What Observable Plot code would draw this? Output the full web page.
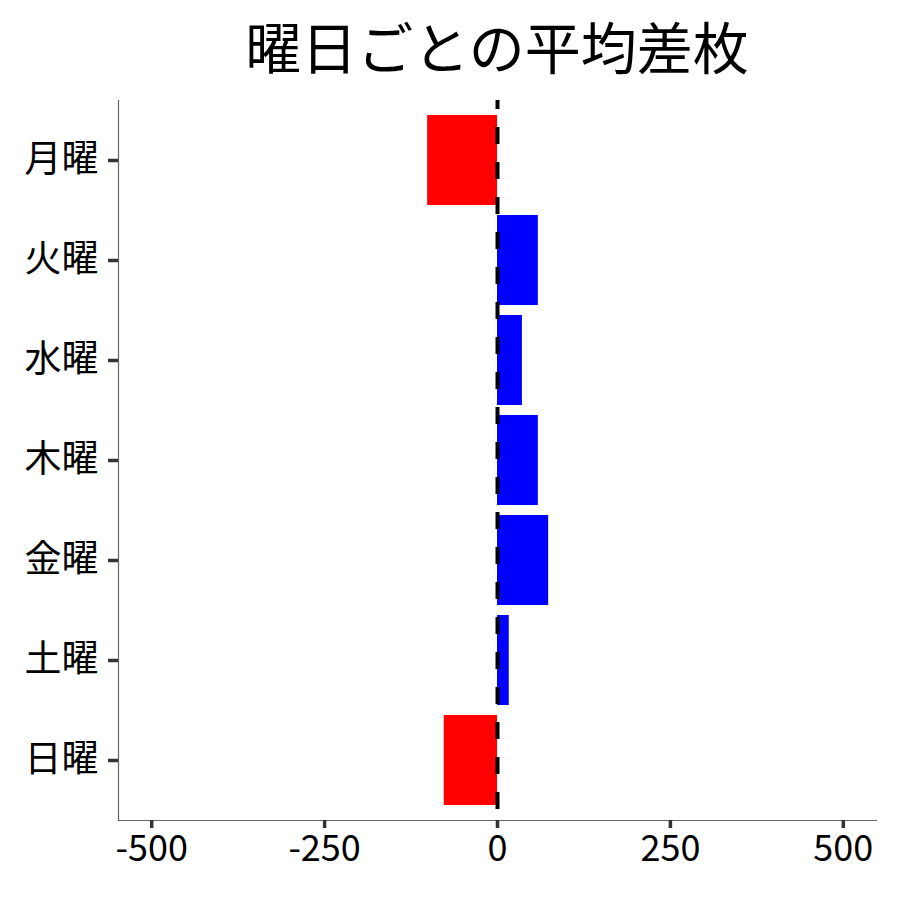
<!DOCTYPE html>
<html>
<head>
<meta charset="utf-8">
<script src="https://cdn.jsdelivr.net/npm/d3@7"></script>
<script src="https://cdn.jsdelivr.net/npm/@observablehq/plot@0.6"></script>
<style>
  html, body { margin: 0; padding: 0; background: #fff; }
  #title { width: 900px; height: 90px; box-sizing: border-box; font-family: "Noto Sans CJK JP", sans-serif; font-size: 56px; line-height: 90px; text-align: center; padding-left: 94px; color: #000; }
  #chart svg { display: block; }
</style>
</head>
<body>
<div id="title">曜日ごとの平均差枚</div>
<div id="chart"></div>
<script>
const days = ["月曜", "火曜", "水曜", "木曜", "金曜", "土曜", "日曜"];
const values = [-101, 59, 36, 59, 74, 17, -77];
const xTicks = [-500, -250, 0, 250, 500];
const xDomain = [-548, 548];

const data = days.map((d, i) => ({day: d, value: values[i]}));

const chart = Plot.plot({
  width: 900,
  height: 810,
  marginLeft: 118,
  marginRight: 24,
  marginTop: 10,
  marginBottom: 80,
  style: {fontFamily: "'Noto Sans CJK JP', sans-serif", fontSize: "37px", background: "#fff", color: "#000"},
  x: {domain: xDomain, ticks: xTicks},
  y: {domain: days, paddingInner: 0.1, paddingOuter: 0.15},
  marks: [
    Plot.barX(data, {y: "day", x: "value", fill: d => d.value < 0 ? "#FF0000" : "#0000FF"}),
    Plot.ruleX([0], {stroke: "#000", strokeWidth: 4, strokeDasharray: "17,18", strokeDashoffset: 8}),
    Plot.frame({anchor: "left", stroke: "#666", strokeWidth: 1.2}),
    Plot.frame({anchor: "bottom", stroke: "#666", strokeWidth: 1.2}),
    Plot.axisY({tickSize: 10, tickPadding: 10, stroke: "#333", strokeWidth: 3.5, fontSize: 37, fill: "#000", label: null}),
    Plot.axisX({ticks: xTicks, tickSize: 8, tickPadding: 7, stroke: "#333", strokeWidth: 3.5, fontSize: 36, fill: "#000", label: null, tickFormat: d => String(d)})
  ]
});
document.getElementById("chart").appendChild(chart);
</script>
</body>
</html>
